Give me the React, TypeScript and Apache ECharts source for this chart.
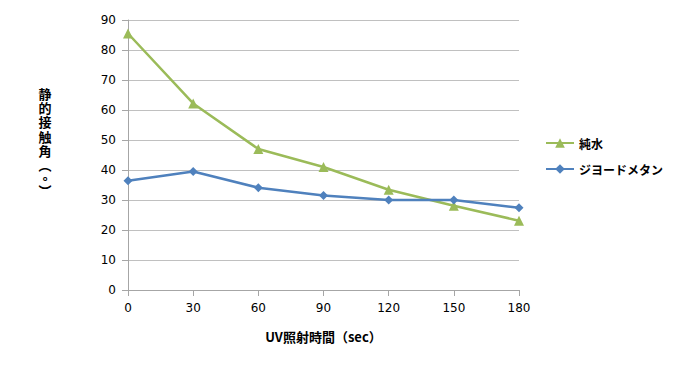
import React, { useEffect, useRef } from "react";
import * as echarts from "echarts";

const categories = ["0", "30", "60", "90", "120", "150", "180"];
const pureWater = [85.5, 62.2, 47, 41, 33.4, 28.1, 23.1];
const diiodomethane = [36.4, 39.5, 34.1, 31.5, 30, 30, 27.4];
const yTicks = { min: 0, max: 90, interval: 10 };
const yAxisTitleChars = ["静", "的", "接", "触", "角", "︵", "°", "︶"];

// layout (pixel tops of the stacked vertical title characters)
const yTitleTops = [87, 101.2, 115.4, 129.6, 143.8, 158, 175, 184];

const GREEN = "#9BBB59";
const BLUE = "#4F81BD";
const FONT = "'Noto Sans CJK JP', 'DejaVu Sans', sans-serif";

export default function App() {
  const ref = useRef<HTMLDivElement>(null);
  useEffect(() => {
    if (!ref.current) return;
    const chart = echarts.init(ref.current, undefined, { renderer: "svg" });
    chart.setOption({
      animation: false,
      backgroundColor: "#ffffff",
      grid: { left: 128, right: 173, top: 20, bottom: 95, containLabel: false },
      xAxis: {
        type: "category",
        data: categories,
        boundaryGap: false,
        axisLine: { lineStyle: { color: "#A6A6A6", width: 1 } },
        axisTick: { show: true, alignWithLabel: true, length: 6, lineStyle: { color: "#A6A6A6" } },
        axisLabel: { color: "#000", fontSize: 12, fontFamily: "'DejaVu Sans', sans-serif", margin: 12 },
        name: "UV照射時間（sec）",
        nameLocation: "middle",
        nameGap: 40,
        nameTextStyle: { color: "#000", fontSize: 13, fontWeight: "bold", fontFamily: FONT },
      },
      yAxis: {
        type: "value",
        min: yTicks.min,
        max: yTicks.max,
        interval: yTicks.interval,
        axisLine: { show: true, lineStyle: { color: "#A6A6A6", width: 1 } },
        axisTick: { show: true, length: 6, lineStyle: { color: "#A6A6A6" } },
        axisLabel: { color: "#000", fontSize: 12, fontFamily: "'DejaVu Sans', sans-serif", margin: 12 },
        splitLine: { lineStyle: { color: "#C0C0C0", width: 1 } },
      },
      legend: {
        orient: "vertical",
        left: 540,
        top: 131,
        padding: 5,
        itemWidth: 28,
        itemHeight: 12,
        itemGap: 12,
        textStyle: { color: "#000", fontSize: 12, lineHeight: 14, fontWeight: "bold", fontFamily: FONT },
        data: ["純水", "ジヨードメタン"],
      },
      graphic: yAxisTitleChars.map((ch, i) => ({
        type: "text",
        x: 45,
        y: yTitleTops[i],
        style: {
          text: ch,
          fill: "#000",
          font: `bold 13px ${FONT}`,
          align: "center",
          verticalAlign: "top",
        },
      })),
      series: [
        {
          name: "純水",
          type: "line",
          data: pureWater,
          symbol: "triangle",
          symbolSize: 10,
          lineStyle: { color: GREEN, width: 2.5 },
          itemStyle: { color: GREEN },
        },
        {
          name: "ジヨードメタン",
          type: "line",
          data: diiodomethane,
          symbol: "diamond",
          symbolSize: 9,
          lineStyle: { color: BLUE, width: 2.5 },
          itemStyle: { color: BLUE },
        },
      ],
    });
    return () => chart.dispose();
  }, []);
  return <div ref={ref} style={{ width: 692, height: 385, position: "absolute", left: 0, top: 0 }} />;
}
